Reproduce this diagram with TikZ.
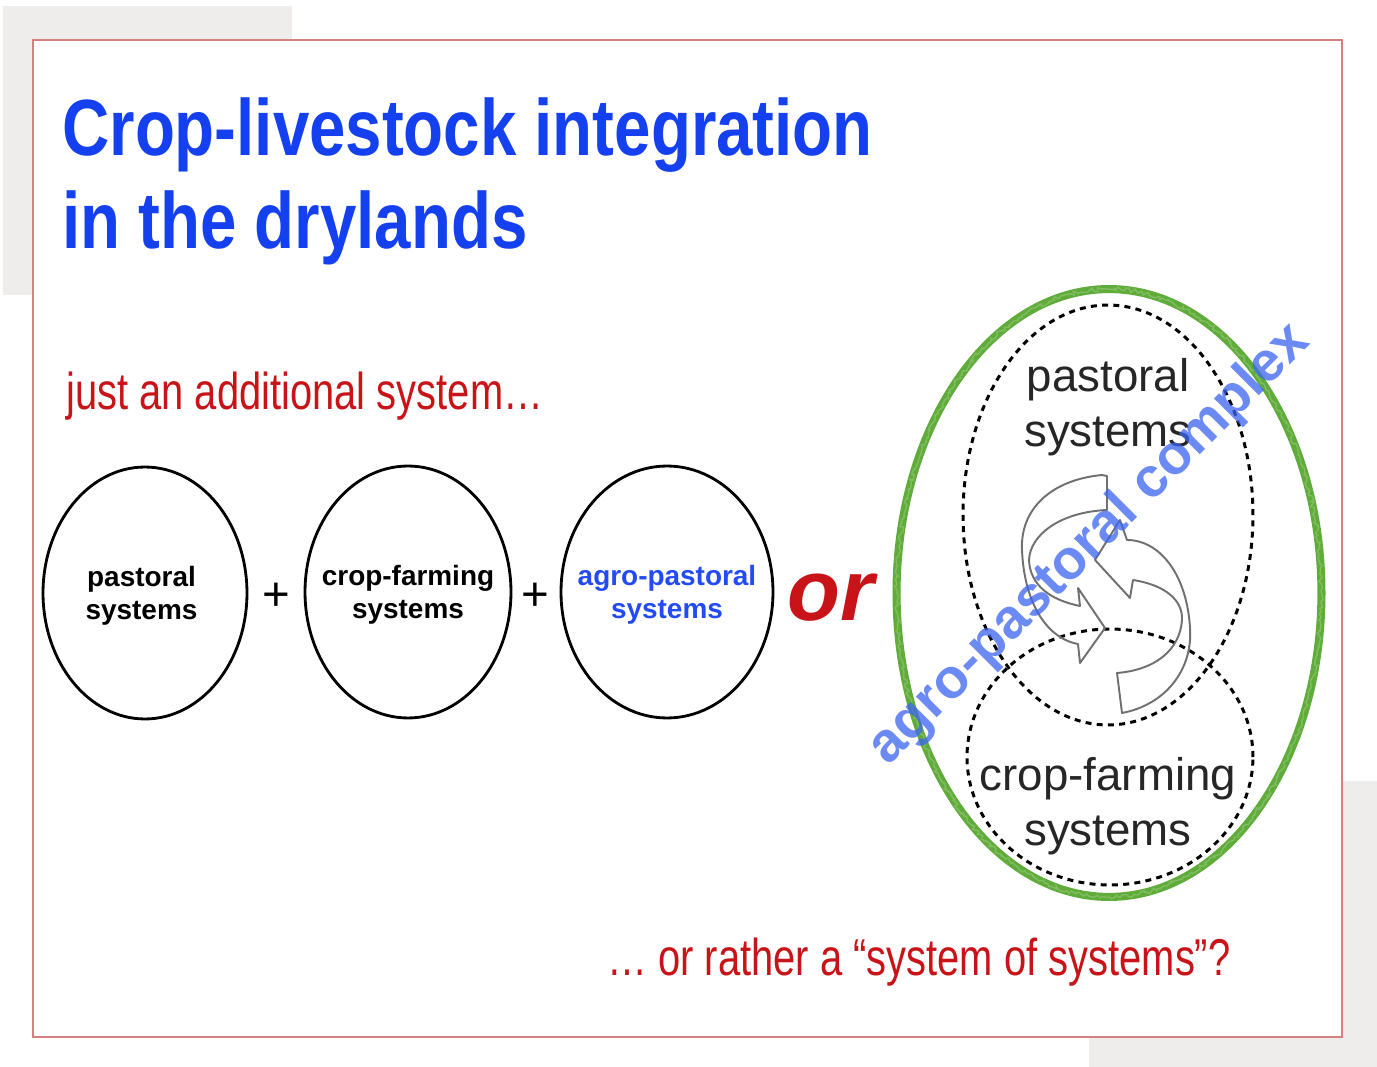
\documentclass[tikz,border=0pt]{standalone}
\usepackage{fontspec}
\setmainfont{Liberation Sans}
\newfontfamily\titlefont[FakeStretch=0.82]{Liberation Sans}
\newfontfamily\narrowfont[FakeStretch=0.77]{Liberation Sans}
\usetikzlibrary{shapes.geometric,scopes,decorations.pathmorphing}
\definecolor{titleblue}{RGB}{20,64,240}
\definecolor{sysblue}{RGB}{35,75,245}
\definecolor{slidered}{RGB}{200,20,24}
\definecolor{framered}{RGB}{214,128,128}
\definecolor{pagegrey}{RGB}{238,237,235}
\definecolor{crayon}{RGB}{96,172,58}
\definecolor{arrowgrey}{RGB}{112,112,112}
\definecolor{markblue}{RGB}{60,100,240}

\begin{document}
\begin{tikzpicture}[x=0.02cm,y=-0.02cm,
   sys/.style={ellipse,draw,line width=1.6pt,inner sep=0pt,minimum height=5.04cm},
   systext/.style={align=center,inner sep=0pt,yshift=-1.7pt,font=\bfseries\fontsize{15.9}{18.7}\selectfont},
   dsys/.style={ellipse,draw,line width=1.7pt,dash pattern=on 3.4pt off 3pt,inner sep=0pt},
   bigtext/.style={align=center,inner sep=0pt,text=black!85,font=\fontsize{26}{31.2}\selectfont},
   remark/.style={anchor=base west,inner sep=0pt,text=slidered,font=\narrowfont\fontsize{29.5}{35}\selectfont},
   plus/.style={inner sep=0pt,font=\fontsize{27}{32}\selectfont},
   cycarrow/.style={draw=arrowgrey,line width=1.1pt,line join=round}]

\useasboundingbox (0,0) rectangle (1377,1067);
\fill[pagegrey] (3,6) rectangle (292,295);
\fill[pagegrey] (1089,781) rectangle (1377,1067);
\draw[framered,line width=1.1pt,fill=white] (33,40) rectangle (1342,1037);

\node[anchor=north west,inner sep=0pt,align=left,text=titleblue,
      font=\titlefont\bfseries\fontsize{45.4}{53.3}\selectfont] (title) at (62,97)
      {Crop-livestock integration\\in the drylands};
\node[remark] (just) at (66,410) {just an additional system…};

% separate systems
\path node[sys,minimum width=4.08cm] (pas) at (145,593) {}
      node[sys,minimum width=4.12cm] (crp) at (408,592) {}
      node[sys,minimum width=4.24cm] (agr) at (667,592) {}
      node[systext,xshift=-2pt]  at (pas) {pastoral\\systems}
      node[systext]              at (crp) {crop-farming\\systems}
      node[systext,text=sysblue] at (agr) {agro-pastoral\\systems}
      node[plus] (plus1) at (276,597) {+}
      node[plus] (plus2) at (535,597) {+};
\node[anchor=base west,inner sep=0pt,text=slidered,
      font=\bfseries\itshape\fontsize{49.3}{59}\selectfont] (or) at (787,621) {or};

% system of systems
\pgfmathsetseed{7}
\path coordinate (apc) at (1109,593)
      node[dsys,minimum width=5.8cm,minimum height=8.4cm]   (psys) at (1108,515) {}
      node[dsys,minimum width=5.72cm,minimum height=5.12cm] (csys) at (1110,757) {}
      node[bigtext] (ptxt) at (1108,407) {pastoral\\systems}
      node[bigtext] (ctxt) at (1108,806) {crop-farming\\systems};
\draw[crayon,line width=4.6pt] (apc) ellipse [x radius=4.25cm,y radius=6.08cm];
\draw[crayon!80!white,line width=0.8pt,decorate,
      decoration={random steps,segment length=1.5pt,amplitude=1.2pt}]
      (apc) ellipse [x radius=4.25cm,y radius=6.08cm];

{[cycarrow]
 \draw (1102,475) .. controls (1050,480) and (1020,510) .. (1022,550)
       .. controls (1024,600) and (1045,638) .. (1078,644) -- (1080,663) -- (1105,628)
       -- (1078,588) -- (1080,606) .. controls (1050,600) and (1030,585) .. (1029,560)
       .. controls (1030,535) and (1060,512) .. (1107,510) -- (1107,476) -- cycle;
 \draw (1117,673) -- (1122,713) .. controls (1165,705) and (1193,670) .. (1190,628)
       .. controls (1187,575) and (1160,540) .. (1127,540) -- (1120,520) -- (1095,560)
       -- (1130,598) -- (1133,580) .. controls (1165,585) and (1183,600) .. (1182,620)
       .. controls (1180,650) and (1155,670) .. (1117,673) -- cycle;
}

\node[rotate=45,inner sep=0pt,text=markblue,text opacity=0.75,
      font=\bfseries\fontsize{31.7}{38}\selectfont] (mark) at (1090,545) {agro-pastoral complex};

\node[remark] (rather) at (607,975) {… or rather a “system of systems”?};
\end{tikzpicture}
\end{document}
